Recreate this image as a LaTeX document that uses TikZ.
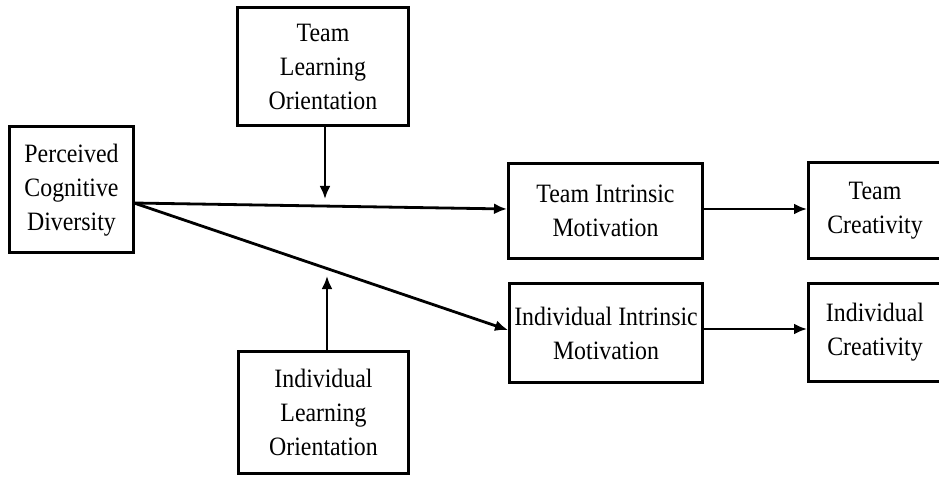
\documentclass[tikz,border=0pt]{standalone}
\usepackage{fontspec}
\setmainfont[FakeStretch=0.9]{Liberation Serif}
\usetikzlibrary{arrows.meta}
\begin{document}
\begin{tikzpicture}[x=1pt,y=-1pt,
  boxnode/.style={draw=black,line width=3pt,rectangle,align=center,inner sep=0pt,
    font=\fontsize{26.5}{34}\selectfont},
  conn/.style={line width=2.8pt,-{Latex[length=13pt,width=11pt]}}]
\useasboundingbox (0,0) rectangle (939,478);
\begin{scope}
\clip (0,0) rectangle (939,478);
\node[boxnode,minimum width=124pt,minimum height=126pt] (pcd) at (71.5,190) {Perceived\\Cognitive\\Diversity};
\node[boxnode,minimum width=171pt,minimum height=118pt] (tlo) at (323,66.5) {Team\\Learning\\Orientation};
\node[boxnode,minimum width=170pt,minimum height=122pt] (ilo) at (323.5,412.5) {Individual\\Learning\\Orientation};
\node[boxnode,minimum width=194pt,minimum height=95pt] (tim) at (605.5,211) {Team Intrinsic\\Motivation};
\node[boxnode,minimum width=193pt,minimum height=99pt] (iim) at (606,333) {Individual Intrinsic\\Motivation};
\node[boxnode,minimum width=133pt,minimum height=96pt] (tc) at (875,210.5) {Team\\Creativity};
\node[boxnode,minimum width=133pt,minimum height=98pt] (ic) at (875,332.5) {Individual\\Creativity};
\end{scope}
\coordinate (src) at (134,203);
\coordinate (tlotip) at (325,199);
\coordinate (ilotip) at (327,276);
\draw[conn] (src) -- (tim.west |- 0,209);
\draw[conn] (src) -- (iim.west |- 0,330);
\draw[conn] (tlo.south -| tlotip) -- (tlotip);
\draw[conn] (ilo.north -| ilotip) -- (ilotip);
\draw[conn] (tim.east |- 0,209) -- (tc.west |- 0,209);
\draw[conn] (iim.east |- 0,329) -- (ic.west |- 0,329);
\end{tikzpicture}
\end{document}
